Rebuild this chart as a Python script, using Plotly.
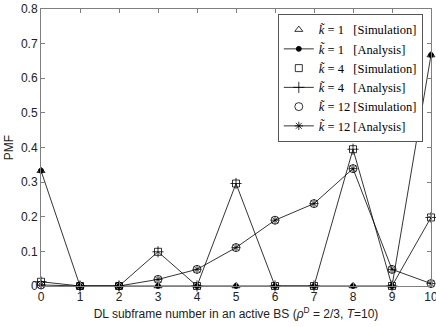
import plotly.graph_objects as go

subframes = list(range(11))
k1_sim = [0.333, 0, 0, 0, 0, 0, 0, 0, 0, 0, 0.667]
k1_ana = [0.333, 0, 0, 0, 0, 0, 0, 0, 0, 0, 0.667]
k4_sim = [0.0123, 0, 0, 0.0988, 0, 0.296, 0, 0, 0.395, 0, 0.198]
k4_ana = [0.0123, 0, 0, 0.0988, 0, 0.296, 0, 0, 0.395, 0, 0.198]
k12_sim = [0.003, 0, 0, 0.019, 0.048, 0.111, 0.19, 0.238, 0.339, 0.048, 0.007]
k12_ana = [0.003, 0, 0, 0.019, 0.048, 0.111, 0.19, 0.238, 0.339, 0.048, 0.007]

FS = "\u2007"
names = [
    f"<i>k̃</i> = 1{FS} [Simulation]",
    f"<i>k̃</i> = 1{FS} [Analysis]",
    f"<i>k̃</i> = 4{FS} [Simulation]",
    f"<i>k̃</i> = 4{FS} [Analysis]",
    "<i>k̃</i> = 12 [Simulation]",
    "<i>k̃</i> = 12 [Analysis]",
]

series = [
    (k1_sim, "markers", "triangle-up-open", 7),
    (k1_ana, "lines+markers", "circle", 5),
    (k4_sim, "markers", "square-open", 7),
    (k4_ana, "lines+markers", "cross-thin-open", 8),
    (k12_sim, "markers", "circle-open", 8),
    (k12_ana, "lines+markers", "asterisk-open", 7),
]

fig = go.Figure()
for (vals, mode, sym, sz), nm in zip(series, names):
    fig.add_trace(go.Scatter(
        x=subframes, y=vals, mode=mode, name=nm, cliponaxis=False,
        line=dict(color="black", width=0.8),
        marker=dict(symbol=sym, size=sz, color="black",
                    line=dict(color="black", width=0.8)),
    ))

axis_common = dict(
    showline=True, linecolor="#7f7f7f", linewidth=1, mirror="ticks",
    ticks="inside", ticklen=4, tickcolor="#7f7f7f", showgrid=False,
    zeroline=False, automargin=False, ticklabeloverflow="allow",
    tickfont=dict(family="Liberation Sans, Arial", size=12, color="#222222"),
)

fig.update_layout(
    width=436, height=327,
    margin=dict(l=41, r=5, t=9, b=41),
    paper_bgcolor="white", plot_bgcolor="white",
    showlegend=True,
    legend=dict(
        x=0.979, y=0.982, xanchor="right", yanchor="top",
        bgcolor="white", bordercolor="#555555", borderwidth=1,
        font=dict(family="Liberation Serif, Times New Roman", size=12.5, color="black"),
        tracegroupgap=0, itemwidth=30,
    ),
    xaxis=dict(
        range=[0, 10], tickvals=subframes, **axis_common,
        title=dict(text="DL subframe number in an active BS (<i>ρ</i><sup>D</sup> = 2/3, <i>T</i>=10)",
                   font=dict(family="Liberation Sans, Arial", size=12, color="#222222"), standoff=6),
    ),
    yaxis=dict(
        range=[0, 0.8], tickvals=[0, 0.1, 0.2, 0.3, 0.4, 0.5, 0.6, 0.7, 0.8],
        ticktext=["0", "0.1", "0.2", "0.3", "0.4", "0.5", "0.6", "0.7", "0.8"], **axis_common,
        title=dict(text="PMF", font=dict(family="Liberation Sans, Arial", size=12, color="#222222"), standoff=4),
    ),
)

fig.write_html("out.html", config={"displayModeBar": False},
               post_script="document.body.style.margin='0';document.body.style.overflow='hidden';")
